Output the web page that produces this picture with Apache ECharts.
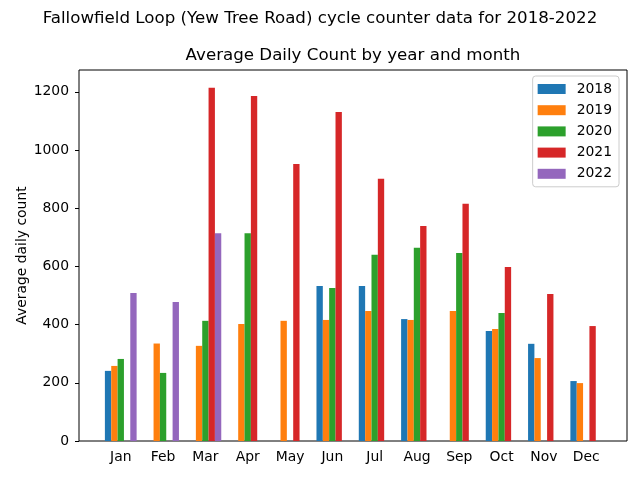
<!DOCTYPE html>
<html>
<head>
<meta charset="utf-8">
<script src="https://cdn.jsdelivr.net/npm/echarts@6/dist/echarts.min.js"></script>
<style>
    html, body { margin: 0; padding: 0; background: #fff; }
    #chart { width: 640px; height: 480px; }
</style>
</head>
<body>
<div id="chart"></div>
<script>
// 月份和年份
const months = ['Jan', 'Feb', 'Mar', 'Apr', 'May', 'Jun', 'Jul', 'Aug', 'Sep', 'Oct', 'Nov', 'Dec'];
const years = ['2018', '2019', '2020', '2021', '2022'];

// 每年各月的平均日流量 (null = 无数据)
const count2018 = [241, null, null, null, null, 533, 533, 419, null, 378, 334, 206];
const count2019 = [258, 335, 327, 402, 413, 416, 447, 416, 447, 385, 285, 199];
const count2020 = [282, 234, 413, 714, null, 526, 640, 664, 646, 440, null, null];
const count2021 = [null, null, 1214, 1186, 952, 1131, 901, 739, 815, 598, 505, 395];
const count2022 = [509, 478, 714, null, null, null, null, null, null, null, null, null];

const yTicks = [0, 200, 400, 600, 800, 1000, 1200];
const colors = ['#1f77b4', '#ff7f0e', '#2ca02c', '#d62728', '#9467bd'];

document.addEventListener('DOMContentLoaded', function () {
    initChart();
});

function initChart() {
    const chartDom = document.getElementById('chart');
    const myChart = echarts.init(chartDom);
    const font = 'DejaVu Sans';
    const allCounts = [count2018, count2019, count2020, count2021, count2022];

    const option = {
        backgroundColor: '#fff',
        animation: false,
        textStyle: { fontFamily: font },
        title: [
            {
                text: 'Fallowfield Loop (Yew Tree Road) cycle counter data for 2018-2022',
                left: 320,
                top: 10,
                padding: 0,
                textAlign: 'center',
                textStyle: { fontFamily: font, fontSize: 16.67, fontWeight: 'normal', color: '#000' }
            },
            {
                text: 'Average Daily Count by year and month',
                left: 353,
                top: 47,
                padding: 0,
                textAlign: 'center',
                textStyle: { fontFamily: font, fontSize: 16.67, fontWeight: 'normal', color: '#000' }
            }
        ],
        legend: {
            orient: 'vertical',
            right: 21,
            top: 76,
            padding: [6, 7, 6, 5],
            itemWidth: 28,
            itemHeight: 10,
            itemGap: 7.2,
            icon: 'rect',
            borderColor: '#cccccc',
            borderWidth: 1,
            borderRadius: 3,
            backgroundColor: '#fff',
            textStyle: { fontFamily: font, fontSize: 13.9, color: '#000', padding: [0, 0, 0, 6] },
            data: years
        },
        grid: [
            // 外框 + y轴
            { left: 79, right: 13, top: 70, bottom: 39, show: true, borderColor: '#000', borderWidth: 1, backgroundColor: 'transparent' },
            // 柱子区域
            { left: 99.6, right: 32.6, top: 70, bottom: 39 }
        ],
        xAxis: [
            { gridIndex: 0, type: 'value', show: false, min: 0, max: 1 },
            {
                gridIndex: 1,
                type: 'category',
                data: months,
                axisLine: { show: false },
                axisTick: { alignWithLabel: true, length: 4, lineStyle: { color: '#000' } },
                axisLabel: { color: '#000', fontSize: 13.9, margin: 9 }
            }
        ],
        yAxis: [
            {
                gridIndex: 0,
                type: 'value',
                min: 0,
                max: 1275,
                name: 'Average daily count',
                nameLocation: 'middle',
                nameGap: 50,
                nameMoveOverlap: false,
                nameTextStyle: { fontFamily: font, fontSize: 13.9, color: '#000' },
                axisLine: { show: false },
                axisTick: { show: true, length: 4, customValues: yTicks, lineStyle: { color: '#000' } },
                axisLabel: {
                    color: '#000',
                    fontSize: 13.9,
                    margin: 10,
                    customValues: yTicks,
                    formatter: function (v) { return String(v); }
                },
                splitLine: { show: false }
            },
            { gridIndex: 1, type: 'value', min: 0, max: 1275, show: false, splitLine: { show: false } }
        ],
        series: years.map(function (y, i) {
            return {
                name: y,
                type: 'bar',
                xAxisIndex: 1,
                yAxisIndex: 1,
                data: allCounts[i],
                barGap: '0%',
                barCategoryGap: '25%',
                itemStyle: { color: colors[i] }
            };
        })
    };

    myChart.setOption(option);

    window.addEventListener('resize', function () {
        myChart.resize();
    });
}
</script>
</body>
</html>
